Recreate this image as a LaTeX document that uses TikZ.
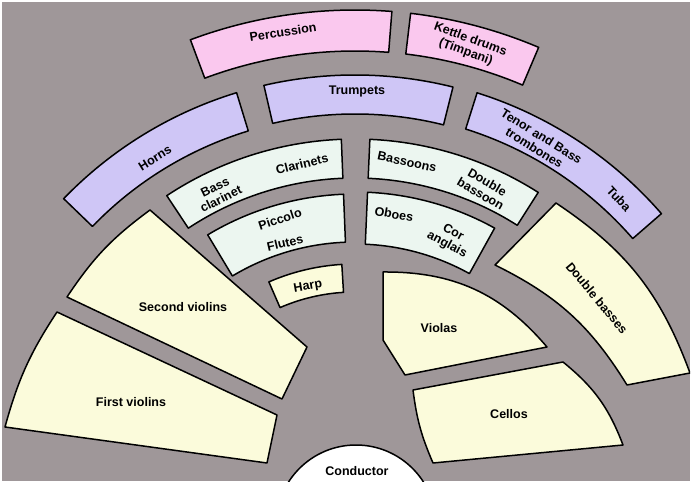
\documentclass[tikz,border=0pt]{standalone}
\usepackage{fontspec}
\setmainfont{Liberation Sans}
\usepackage{tikz}
\definecolor{stagegrey}{RGB}{159,151,153}
\definecolor{percpink}{RGB}{250,200,238}
\definecolor{brasslilac}{RGB}{207,198,246}
\definecolor{windwhite}{RGB}{236,246,240}
\definecolor{stringcream}{RGB}{251,251,219}

\begin{document}
\begin{tikzpicture}[
    x=1pt, y=1pt,
    block/.style={draw=black, line width=1.5pt, line join=round},
    perc/.style={block, fill=percpink},
    brass/.style={block, fill=brasslilac},
    wind/.style={block, fill=windwhite},
    strings/.style={block, fill=stringcream},
    lbl/.style={font=\bfseries\fontsize{12.5}{13.5}\selectfont, align=center, inner sep=0pt}
]

% origin sits at the middle of the rings
\useasboundingbox (-355,-4) rectangle (337,480);
\fill[white] (-355,-4) rectangle (337,480);
\fill[stagegrey] (-353,-1) rectangle (335,478);
\clip (-353,-1) rectangle (335,478);

% back row
\draw[perc] (85.5:470) arc[start angle=85.5, end angle=110.5, radius=470pt] -- (110.5:429) arc[start angle=110.5, end angle=85.5, radius=429pt] -- cycle;
\draw[perc] (67:470) arc[start angle=67, end angle=83.2, radius=470pt] -- (83.2:429) arc[start angle=83.2, end angle=67, radius=429pt] -- cycle;

% brass
\draw[brass] (107:405) arc[start angle=107, end angle=136, radius=405pt] -- (136:365) arc[start angle=136, end angle=107, radius=365pt] -- cycle;
\draw[brass] (76:405) arc[start angle=76, end angle=103, radius=405pt] -- (103:366) arc[start angle=103, end angle=76, radius=366pt] -- cycle;
\draw[brass] (41:406) arc[start angle=41, end angle=72.5, radius=406pt] -- (72.5:368) arc[start angle=72.5, end angle=41, radius=368pt] -- cycle;

% woodwind
\draw[wind] (92.3:341) arc[start angle=92.3, end angle=123.5, radius=341pt] -- (123.5:302) arc[start angle=123.5, end angle=92.3, radius=302pt] -- cycle;
\draw[wind] (57.5:341) arc[start angle=57.5, end angle=87.5, radius=341pt] -- (87.5:302) arc[start angle=87.5, end angle=57.5, radius=302pt] -- cycle;
\draw[wind] (92.3:286) arc[start angle=92.3, end angle=121, radius=286pt] -- (121:238) arc[start angle=121, end angle=92.3, radius=238pt] -- cycle;
\draw[wind] (61:288) arc[start angle=61, end angle=87.5, radius=288pt] -- (87.5:236) arc[start angle=87.5, end angle=61, radius=236pt] -- cycle;

% harp
\draw[strings] (93.5:216) arc[start angle=93.5, end angle=113.5, radius=216pt] -- (113.5:188) arc[start angle=113.5, end angle=93.5, radius=188pt] -- cycle;

% strings
\draw[strings] (-205,270) to[bend right=10] (-288,183) -- (-73,81) -- (-48,133) -- cycle;
\draw[strings] (-298,168) to[bend right=9] (-350,53) -- (-88,17) -- (-78,65) -- cycle;
\draw[strings] (28,208) to[bend left=25] (192,133) -- (50,105) -- (28,140) -- cycle;
\draw[strings] (58,90) -- (208,118) to[bend left=15] (268,35) -- (78,17) to[bend left=8] (58,90) -- cycle;
\draw[strings] (140,215) -- (201,277) to[bend left=18] (335,107) -- (272,95) to[bend right=16] (140,215) -- cycle;

% conductor
\draw[block, fill=white] (1,-45) circle[radius=80pt];

% labels
\node[lbl, rotate=9] (perc) at (-72,448) {Percussion};
\node[lbl, rotate=-20] (kettle) at (113,434) {Kettle drums\\(Timpani)};
\node[lbl] (trumpets) at (2,388) {Trumpets};
\node[lbl, rotate=32] (horns) at (-200,322) {Horns};
\node[lbl, rotate=-32] (trombones) at (183,338) {Tenor and Bass\\trombones};
\node[lbl, rotate=-47] (tuba) at (264,281) {Tuba};
\node[lbl, rotate=26] (bassclar) at (-137,287) {Bass\\clarinet};
\node[lbl, rotate=14] (clarinets) at (-53,316) {Clarinets};
\node[lbl, rotate=-12] (bassoons) at (52,318) {Bassoons};
\node[lbl, rotate=-30] (dblbassoon) at (129,292) {Double\\bassoon};
\node[lbl, rotate=18] (piccolo) at (-75,261) {Piccolo};
\node[lbl, rotate=13] (flutes) at (-70,237) {Flutes};
\node[lbl, rotate=10] (harp) at (-47,193) {Harp};
\node[lbl, rotate=-10] (oboes) at (39,266) {Oboes};
\node[lbl, rotate=-28] (coranglais) at (95,241) {Cor\\anglais};
\node[lbl] (violins2) at (-172,173) {Second violins};
\node[lbl] (violins1) at (-224,78) {First violins};
\node[lbl] (violas) at (84,152) {Violas};
\node[lbl] (cellos) at (154,66) {Cellos};
\node[lbl, rotate=-50] (dbasses) at (242,182) {Double basses};
\node[lbl] (conductor) at (2,9) {Conductor};

\end{tikzpicture}
\end{document}
